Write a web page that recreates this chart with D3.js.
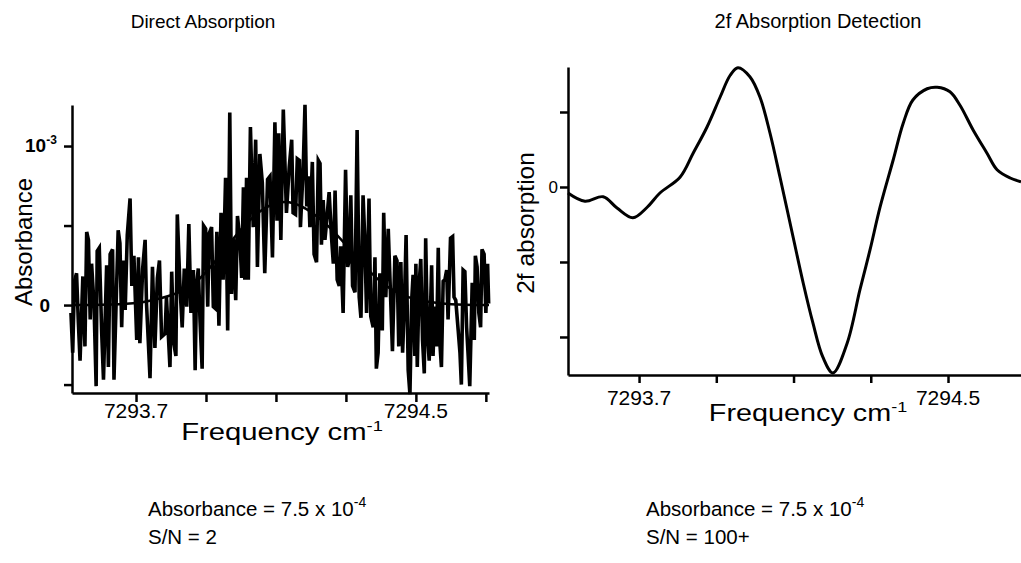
<!DOCTYPE html>
<html>
<head>
<meta charset="utf-8">
<script src="https://cdn.jsdelivr.net/npm/d3@7"></script>
<style>
  body { margin: 0; background: #fff; }
  svg { font-family: 'Liberation Sans', Arial, sans-serif; }
  .axis path, .axis line { stroke: #000; stroke-width: 2.5px; }
</style>
</head>
<body>
<svg width="1021" height="563"></svg>
<script>
// direct absorption scan, [frequency cm-1, absorbance in units of 1e-3]
const directScan = [
  [7293.514, -0.05], [7293.519, -0.30], [7293.524, 0.15], [7293.530, 0.20], [7293.535, -0.10], [7293.540, -0.35],
  [7293.548, 0.18], [7293.554, -0.26], [7293.559, 0.46], [7293.564, 0.41], [7293.569, -0.09], [7293.573, 0.26],
  [7293.580, 0.00], [7293.586, -0.51], [7293.589, 0.34], [7293.595, 0.36], [7293.602, -0.18], [7293.607, -0.47],
  [7293.616, 0.25], [7293.621, -0.39], [7293.626, 0.32], [7293.633, 0.35], [7293.637, -0.47], [7293.649, 0.47],
  [7293.654, 0.39], [7293.659, -0.14], [7293.664, 0.28], [7293.669, -0.03], [7293.675, 0.44], [7293.683, 0.67],
  [7293.688, 0.12], [7293.694, 0.31], [7293.702, -0.22], [7293.707, 0.30], [7293.711, -0.24], [7293.719, 0.23],
  [7293.726, 0.41], [7293.730, 0.01], [7293.740, -0.46], [7293.747, 0.24], [7293.754, -0.27], [7293.761, 0.17],
  [7293.767, 0.28], [7293.773, -0.20], [7293.783, -0.18], [7293.787, 0.05], [7293.797, -0.39], [7293.802, 0.21],
  [7293.808, -0.24], [7293.814, -0.32], [7293.818, 0.57], [7293.826, 0.10],
  [7293.832, -0.14], [7293.838, 0.23], [7293.845, -0.01], [7293.851, 0.51], [7293.857, -0.05], [7293.864, 0.22],
  [7293.869, -0.41], [7293.873, 0.12], [7293.878, 0.23], [7293.883, -0.10], [7293.889, -0.40], [7293.893, 0.50],
  [7293.899, 0.48], [7293.905, -0.01], [7293.909, 0.45], [7293.916, 0.49], [7293.921, -0.01], [7293.926, -0.02],
  [7293.931, 0.46], [7293.937, -0.13], [7293.943, 0.58], [7293.949, 0.16], [7293.956, 0.80], [7293.962, -0.16],
  [7293.968, 1.21], [7293.973, 0.07], [7293.978, 0.42], [7293.985, 0.03], [7293.990, 0.56], [7293.997, 0.41],
  [7294.002, 0.17], [7294.007, 0.74], [7294.011, 0.16], [7294.016, 0.80], [7294.021, 0.16], [7294.027, 1.12],
  [7294.035, 0.49], [7294.042, 1.04], [7294.047, 0.24], [7294.054, 0.95], [7294.061, 0.77], [7294.068, 0.20],
  [7294.076, 0.79], [7294.083, 0.81], [7294.090, 0.30], [7294.097, 1.15], [7294.103, 0.53], [7294.108, 1.08],
  [7294.114, 0.41], [7294.121, 1.23],
  [7294.130, 0.58], [7294.138, 0.87], [7294.145, 1.04], [7294.149, 0.58], [7294.156, 0.57], [7294.161, 0.92],
  [7294.167, 0.91], [7294.170, 0.49], [7294.178, 0.87], [7294.183, 1.26], [7294.188, 0.62], [7294.192, 0.81],
  [7294.197, 0.49], [7294.204, 0.90], [7294.209, 0.32], [7294.216, 0.27], [7294.221, 0.91], [7294.226, 0.89],
  [7294.230, 0.38], [7294.235, 0.66], [7294.240, 0.41], [7294.245, 0.53], [7294.252, 0.71], [7294.259, 0.42],
  [7294.264, 0.26], [7294.269, 0.72], [7294.275, 0.16], [7294.281, 0.12], [7294.285, 0.37], [7294.292, -0.05],
  [7294.299, 0.85], [7294.305, 0.24], [7294.309, 0.28], [7294.314, 0.69], [7294.319, 0.12], [7294.326, 0.08],
  [7294.332, 1.10], [7294.338, 0.05], [7294.343, -0.08], [7294.349, 0.69], [7294.354, 0.41], [7294.359, -0.05],
  [7294.366, 0.67], [7294.371, -0.07], [7294.378, -0.14], [7294.383, 0.30], [7294.387, -0.40], [7294.392, -0.30],
  [7294.397, 0.20], [7294.404, -0.16], [7294.408, 0.58], [7294.414, 0.05], [7294.421, 0.48],
  [7294.433, -0.29], [7294.440, 0.31], [7294.446, 0.28], [7294.451, -0.26], [7294.457, 0.27], [7294.462, -0.30],
  [7294.467, -0.01], [7294.472, 0.44], [7294.478, -0.41], [7294.483, -0.56], [7294.488, 0.03], [7294.492, 0.19],
  [7294.497, -0.32], [7294.500, 0.26], [7294.504, -0.39], [7294.509, 0.12], [7294.514, 0.29], [7294.519, -0.22],
  [7294.524, -0.43], [7294.528, 0.42], [7294.533, -0.18], [7294.538, -0.35], [7294.545, 0.25], [7294.549, -0.32],
  [7294.554, -0.01], [7294.559, -0.26], [7294.564, 0.36], [7294.568, -0.22], [7294.573, -0.39], [7294.578, 0.15],
  [7294.583, 0.16], [7294.588, 0.22], [7294.592, -0.09], [7294.599, 0.42], [7294.605, 0.43], [7294.609, 0.05],
  [7294.614, 0.03], [7294.621, -0.16], [7294.626, -0.30], [7294.630, -0.50], [7294.635, 0.22], [7294.640, 0.21],
  [7294.645, -0.14], [7294.649, -0.30], [7294.654, -0.51], [7294.661, 0.14], [7294.667, -0.22], [7294.670, 0.31],
  [7294.675, 0.24], [7294.680, -0.05], [7294.685, -0.14], [7294.689, 0.35], [7294.695, 0.32], [7294.700, -0.05],
  [7294.705, 0.26], [7294.708, 0.01]
];

// smooth line profile fitted through the scan
const directFit = [
  [7293.517, 0.0], [7293.60, 0.0], [7293.70, 0.01], [7293.75, 0.03], [7293.80, 0.06], [7293.85, 0.10],
  [7293.90, 0.20], [7293.95, 0.34], [7294.00, 0.48], [7294.05, 0.59], [7294.10, 0.65], [7294.15, 0.65],
  [7294.20, 0.59], [7294.25, 0.50], [7294.30, 0.38], [7294.35, 0.25], [7294.40, 0.14], [7294.45, 0.07],
  [7294.50, 0.03], [7294.60, 0.0], [7294.709, 0.0]
];

// 2f (second harmonic) signal, arbitrary units
const twoFScan = [
  [7293.516, -0.08], [7293.560, -0.19], [7293.607, -0.13], [7293.643, -0.28], [7293.684, -0.41], [7293.721, -0.27],
  [7293.754, -0.08], [7293.806, 0.13], [7293.840, 0.45], [7293.876, 0.80], [7293.910, 1.20], [7293.936, 1.49],
  [7293.956, 1.59], [7293.987, 1.47], [7294.013, 1.20], [7294.039, 0.72], [7294.065, 0.13], [7294.099, -0.67],
  [7294.125, -1.28], [7294.150, -1.81], [7294.176, -2.27], [7294.202, -2.48], [7294.239, -2.08], [7294.272, -1.37],
  [7294.298, -0.84], [7294.324, -0.27], [7294.358, 0.36], [7294.384, 0.85], [7294.409, 1.16], [7294.446, 1.31],
  [7294.472, 1.33], [7294.505, 1.27], [7294.531, 1.09], [7294.565, 0.76], [7294.601, 0.45], [7294.627, 0.23],
  [7294.661, 0.12], [7294.689, 0.07]
];

const leftFreqTicks = [7293.7, 7293.9, 7294.1, 7294.3, 7294.5, 7294.7];
const rightFreqTicks = [7293.7, 7293.9, 7294.1, 7294.3, 7294.5];
const freqLabels = [7293.7, 7294.5];
const absTicks = [-0.5, 0, 0.5, 1];
const twoFTicks = [-2, -1, 0, 1];

const svg = d3.select('svg');

// scales for the two panels
const xL = d3.scaleLinear().domain([7293.517, 7294.709]).range([72, 489]);
const yL = d3.scaleLinear().domain([-0.553, 1.258]).range([393, 105]);
const xR = d3.scaleLinear().domain([7293.516, 7294.689]).range([568, 1021]);
const yR = d3.scaleLinear().domain([-2.507, 1.6]).range([375, 67]);

const line = (x, y) => d3.line().x((d) => x(d[0])).y((d) => y(d[1]));

// ---- left panel: direct absorption ----
svg.append('path')
  .datum(directFit)
  .attr('fill', 'none')
  .attr('stroke', '#000')
  .attr('stroke-width', 2.5)
  .attr('d', line(xL, yL).curve(d3.curveBasis));

svg.append('path')
  .datum(directScan)
  .attr('fill', 'none')
  .attr('stroke', '#000')
  .attr('stroke-width', 3.6)
  .attr('d', line(xL, yL));

svg.append('g')
  .attr('class', 'axis')
  .attr('transform', 'translate(0,393)')
  .call(d3.axisBottom(xL).tickValues(leftFreqTicks).tickSize(9).tickSizeOuter(0).tickFormat(''));

svg.append('g')
  .attr('class', 'axis')
  .attr('transform', 'translate(72,0)')
  .call(d3.axisLeft(yL).tickValues(absTicks).tickSize(8).tickSizeOuter(0).tickFormat(''));

// ---- right panel: 2f detection ----
svg.append('path')
  .datum(twoFScan)
  .attr('fill', 'none')
  .attr('stroke', '#000')
  .attr('stroke-width', 3)
  .attr('d', line(xR, yR).curve(d3.curveCatmullRom));

svg.append('g')
  .attr('class', 'axis')
  .attr('transform', 'translate(0,375)')
  .call(d3.axisBottom(xR).tickValues(rightFreqTicks).tickSize(8).tickSizeOuter(0).tickFormat(''));

svg.append('g')
  .attr('class', 'axis')
  .attr('transform', 'translate(568,0)')
  .call(d3.axisLeft(yR).tickValues(twoFTicks).tickSize(8).tickSizeOuter(0).tickFormat(''));

// ---- tick labels ----
svg.selectAll('.fl')
  .data(freqLabels)
  .enter()
  .append('text')
  .attr('x', (d) => xL(d))
  .attr('y', 418)
  .attr('text-anchor', 'middle')
  .attr('font-size', 21)
  .text((d) => d.toFixed(1));

svg.selectAll('.fr')
  .data(freqLabels)
  .enter()
  .append('text')
  .attr('x', (d) => xR(d))
  .attr('y', 405)
  .attr('text-anchor', 'middle')
  .attr('font-size', 21)
  .text((d) => d.toFixed(1));

svg.append('text')
  .attr('x', 50).attr('y', yL(0) + 7)
  .attr('text-anchor', 'end')
  .attr('font-size', 19).attr('font-weight', 'bold')
  .text('0');

const pow = svg.append('text')
  .attr('x', 25).attr('y', yL(1) + 6)
  .attr('font-size', 19).attr('font-weight', 'bold');
pow.append('tspan').text('10');
pow.append('tspan').attr('dy', -8).attr('font-size', 12).text('-3');

svg.append('text')
  .attr('x', 558).attr('y', yR(0) + 6)
  .attr('text-anchor', 'end')
  .attr('font-size', 17)
  .text('0');

// ---- axis titles ----
svg.append('text')
  .attr('transform', 'translate(32,242) rotate(-90)')
  .attr('text-anchor', 'middle')
  .attr('font-size', 24)
  .text('Absorbance');

svg.append('text')
  .attr('transform', 'translate(534,223) rotate(-90)')
  .attr('text-anchor', 'middle')
  .attr('font-size', 24.5)
  .text('2f absorption');

// the original x titles are drawn a little wide, so stretch them horizontally
const freqTitle = (cx, y, sx) => {
  const t = svg.append('text')
    .attr('transform', `translate(${cx},${y}) scale(${sx},1)`)
    .attr('text-anchor', 'middle')
    .attr('font-size', 24);
  t.append('tspan').text('Frequency cm');
  t.append('tspan').attr('dy', -9).attr('font-size', 15).text('-1');
};
freqTitle(282, 440, 1.22);
freqTitle(808, 421, 1.2);

// ---- panel titles ----
svg.append('text').attr('x', 203).attr('y', 28).attr('text-anchor', 'middle').attr('font-size', 19).text('Direct Absorption');
svg.append('text').attr('x', 818).attr('y', 28).attr('text-anchor', 'middle').attr('font-size', 20).text('2f Absorption Detection');

// ---- notes under the panels ----
const note = (x, sn) => {
  const t = svg.append('text').attr('x', x).attr('y', 516).attr('font-size', 20.5);
  t.append('tspan').text('Absorbance = 7.5 x 10');
  t.append('tspan').attr('dy', -9).attr('font-size', 14).text('-4');
  svg.append('text').attr('x', x).attr('y', 544).attr('font-size', 20.5).text('S/N = ' + sn);
};
note(148, '2');
note(646, '100+');
</script>
</body>
</html>
